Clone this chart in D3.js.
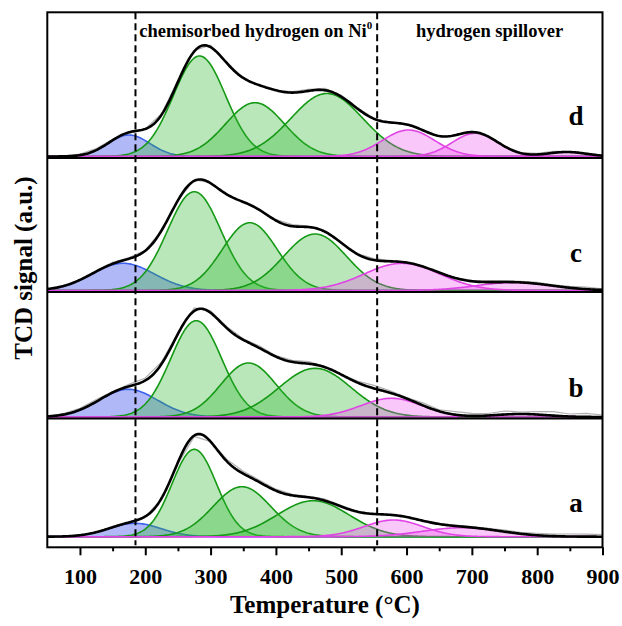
<!DOCTYPE html>
<html><head><meta charset="utf-8">
<script src="https://cdn.jsdelivr.net/npm/d3@7"></script>
<style>body{margin:0;background:#fff}svg{display:block}</style>
</head><body><svg id="chart" width="622" height="626"></svg>
<script>
// ---------------- data ----------------
const panelNames = ["a", "b", "c", "d"];
const panelOffsets = [10.6, 130.3, 256.8, 390.8];      // stacked baseline of each curve (a.u.)
const separatorOffsets = [128.8, 255.3, 389.3];         // panel divider lines (a.u.)
// Gaussian fit components: [centre (°C), height (a.u.), sigma (°C)]
const bluePeaks = {
  a: [[184, 13.4, 40]],
  b: [[174, 27.7, 45]],
  c: [[166, 27.2, 48]],
  d: [[175, 21.5, 32]]
};
const greenPeaks = {
  a: [[275, 87.4, 34], [348, 50, 44], [457, 36, 55]],
  b: [[278, 96.3, 39], [358, 54, 42], [460, 48.7, 55]],
  c: [[275, 98.8, 41], [360, 67.8, 42], [460, 56.5, 48]],
  d: [[283, 100.5, 40], [368, 53.8, 45], [478, 63, 55]]
};
const magentaPeaks = {
  a: [[580, 16.7, 45], [685, 9, 60]],
  b: [[577, 18.7, 47], [775, 3, 40]],
  c: [[593, 27.2, 58], [765, 8, 58]],
  d: [[603, 26.5, 40], [705, 23.2, 35], [845, 4.5, 30]]
};
// raw TCD signal: deviation of the measured trace from the cumulative fit
const rawTemps = [50, 75, 100, 125, 150, 175, 200, 225, 250, 275, 300, 325, 350, 375, 400, 425, 450, 475, 500, 525, 550, 575, 600, 625, 650, 675, 700, 725, 750, 775, 800, 825, 850, 875, 900];
const rawResiduals = {
  a: [0, 0, 0, 0, 0.5, 0.5, 0, -1, -1.5, -1, 0, 2, 2.5, 2, 1.5, 1, 1, 1.5, 1, 0.5, 0, 0, 0.5, 0.5, 0.5, 1, 1, 1, 1.5, 1.5, 2, 2, 2.5, 2.5, 2],
  b: [0, 1, 1.5, 2, 1, 2, 2.5, 2, 1, 3, 2, 1.5, 1, 2, 1, 1.5, 2, 1, 0, 1.5, 3, 2, 1, 2.5, 1.5, 3, 2.5, 2, 3.5, 2, 3, 4, 2.5, 3.5, 2],
  c: [0, 0, 0.5, 1, 1.5, 1, 0.5, 0, 0, 1, 0.5, 0, -0.5, 0, 1, 1.5, 1, 0, 0, 0.5, 1.5, 1, 0.5, 0, 0, 0.5, 1, 1.5, 1.5, 1, 1.5, 1, 1.5, 2, 1],
  d: [0, 0.5, 1, 1.5, 1, 0.5, 0, 1, 1.5, 1, 2, 1, 0, -0.5, 0, 1, 1.5, 2, 1.5, 1, 0.5, -0.5, 0, 0.5, 0, -0.5, 0, 0.5, 0, 0.5, 1, 1.5, 0.5, 1, 0.5]
};
const xTicks = [100, 200, 300, 400, 500, 600, 700, 800, 900];
const xMinorTicks = [150, 250, 350, 450, 550, 650, 750, 850];
const regionDividers = [185, 555];
const xDomain = [50, 900];
const yDomain = [0, 535];

// ---------------- layout ----------------
const svg = d3.select("#chart");
const L = 47.3, R = 602.5, T = 12.3, B = 547.3;
const x = d3.scaleLinear().domain(xDomain).range([L, R]);
const y = d3.scaleLinear().domain(yDomain).range([B, T]);
const serif = "'Liberation Serif','Times New Roman',serif";

svg.append("defs").append("clipPath").attr("id", "clip")
  .append("rect").attr("x", L).attr("y", T).attr("width", R - L).attr("height", B - T);

const gauss = (t, p) => p[1] * Math.exp(-((t - p[0]) ** 2) / (2 * p[2] * p[2]));
const grid = d3.range(xDomain[0], xDomain[1] + 0.001, 2);

const colors = {
  blue: { fill: "#4455ee", op: 0.42, stroke: "#3d63ee" },
  green: { fill: "#2fb52f", op: 0.33, stroke: "#169916" },
  magenta: { fill: "#ee44ee", op: 0.3, stroke: "#e044e6" }
};

const plot = svg.append("g").attr("clip-path", "url(#clip)");

panelNames.forEach((name, i) => {
  const off = panelOffsets[i];
  const g = plot.append("g");
  const groups = [["blue", bluePeaks[name]], ["green", greenPeaks[name]], ["magenta", magentaPeaks[name]]];
  const all = [].concat(bluePeaks[name], greenPeaks[name], magentaPeaks[name]);
  const area = d3.area().x(d => x(d.t)).y0(y(off)).y1(d => y(off + d.v)).curve(d3.curveLinear);
  const line = d3.line().x(d => x(d.t)).y(d => y(off + d.v));
  groups.forEach(([c, peaks]) => {
    peaks.forEach(p => {
      const pts = grid.map(t => ({ t, v: gauss(t, p) }));
      g.append("path").attr("d", area(pts)).attr("fill", colors[c].fill).attr("fill-opacity", colors[c].op);
      g.append("path").attr("d", line(pts)).attr("fill", "none").attr("stroke", colors[c].stroke).attr("stroke-width", 1.6);
    });
  });
  const sum = t => d3.sum(all, p => gauss(t, p));
  // raw data (grey)
  const raw = rawTemps.map((t, k) => ({ t, v: sum(t) + rawResiduals[name][k] }));
  g.append("path").attr("d", line(raw)).attr("fill", "none").attr("stroke", "#b0b0b0").attr("stroke-width", 1.2);
  // cumulative fit
  const tot = grid.map(t => ({ t, v: sum(t) }));
  g.append("path").attr("d", line(tot)).attr("fill", "none").attr("stroke", "#000").attr("stroke-width", 2.6).attr("stroke-linejoin", "round");
});

// separators
svg.selectAll(".sep").data(separatorOffsets).enter().append("line")
  .attr("x1", L).attr("x2", R).attr("y1", d => y(d)).attr("y2", d => y(d))
  .attr("stroke", "#000").attr("stroke-width", 2);

// dashed region dividers
svg.selectAll(".div").data(regionDividers).enter().append("line")
  .attr("x1", d => x(d)).attr("x2", d => x(d)).attr("y1", T).attr("y2", B - 2)
  .attr("stroke", "#000").attr("stroke-width", 2).attr("stroke-dasharray", "7,4");

// frame
svg.append("rect").attr("x", L).attr("y", T).attr("width", R - L).attr("height", B - T)
  .attr("fill", "none").attr("stroke", "#000").attr("stroke-width", 2);

// axes
const ax = svg.append("g").attr("transform", `translate(0,${B})`)
  .call(d3.axisBottom(x).tickValues(xTicks).tickSize(8).tickPadding(13).tickFormat(d3.format("d")));
ax.select(".domain").remove();
ax.selectAll("line").attr("stroke-width", 2);
ax.selectAll("text").attr("font-family", serif).attr("font-weight", "bold").attr("font-size", 22).attr("fill", "#000");
const axm = svg.append("g").attr("transform", `translate(0,${B})`)
  .call(d3.axisBottom(x).tickValues(xMinorTicks).tickSize(4).tickFormat(""));
axm.select(".domain").remove();
axm.selectAll("line").attr("stroke-width", 2);

// titles
svg.append("text").attr("x", (L + R) / 2).attr("y", 613).attr("text-anchor", "middle")
  .attr("font-family", serif).attr("font-weight", "bold").attr("font-size", 25).text("Temperature (°C)");
svg.append("text").attr("transform", "translate(32,268) rotate(-90)").attr("text-anchor", "middle")
  .attr("font-family", serif).attr("font-weight", "bold").attr("font-size", 25).text("TCD signal (a.u.)");

// region labels
const t1 = svg.append("text").attr("x", 139.3).attr("y", 37.3)
  .attr("font-family", serif).attr("font-weight", "bold").attr("font-size", 18.5);
t1.append("tspan").text("chemisorbed hydrogen on Ni");
t1.append("tspan").attr("dy", -8).attr("font-size", 11).text("0");
svg.append("text").attr("x", 416).attr("y", 37.3)
  .attr("font-family", serif).attr("font-weight", "bold").attr("font-size", 18.5).text("hydrogen spillover");

// panel letters
const letterY = [512, 397, 262, 125];
panelNames.forEach((n, i) => {
  svg.append("text").attr("x", 576).attr("y", letterY[i]).attr("text-anchor", "middle")
    .attr("font-family", serif).attr("font-weight", "bold").attr("font-size", 27).text(n);
});
</script></body></html>
